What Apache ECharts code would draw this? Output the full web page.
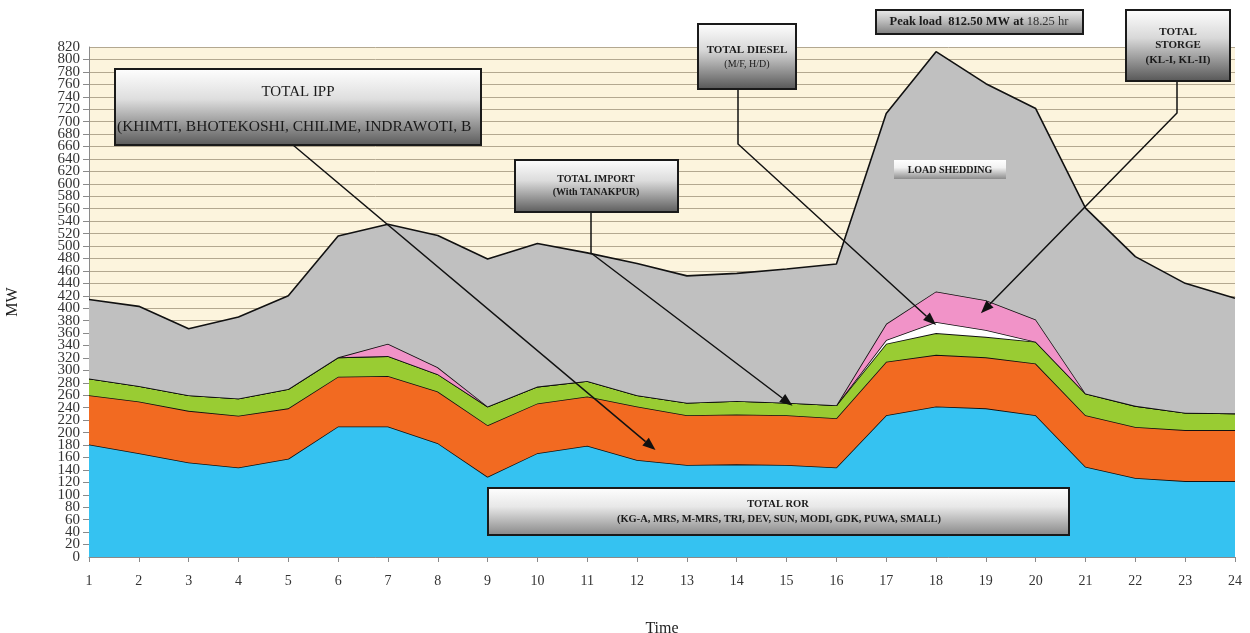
<!DOCTYPE html>
<html>
<head>
<meta charset="utf-8">
<script src="https://cdn.jsdelivr.net/npm/echarts@6/dist/echarts.min.js"></script>
<style>
html,body{margin:0;padding:0;background:#ffffff;}
#chart{width:1250px;height:633px;}
</style>
</head>
<body>
<div id="chart"></div>
<script>
// ---- Data (MW), hourly ----
const hours = ['1','2','3','4','5','6','7','8','9','10','11','12','13','14','15','16','17','18','19','20','21','22','23','24'];
const totalROR = [181,167,152,144,158,210,210,183,129,167,179,156,148,149,148,144,228,242,239,228,145,127,122,122];
const totalIPP = [79,83,83,83,81,80,81,83,83,80,79,86,80,80,80,79,86,83,82,83,83,82,82,82];
const totalImport = [27,25,25,28,31,31,32,28,30,27,25,18,20,22,20,21,29,35,33,35,35,34,28,27];
const totalDiesel = [0,0,0,0,0,0,0,0,0,0,0,0,0,0,0,0,6,18,11,0,0,0,0,0];
const totalStorage = [0,0,0,0,0,0,20,11,0,0,0,0,0,0,0,0,26,49,48,36,0,0,0,0];
const loadShedding = [127,128,107,131,150,195,192,212,237,230,206,212,204,205,215,227,338,385.5,348,339,298,240,208,185];
const yTicks = {min:0, max:820, interval:20};

const seriesNames = ['TOTAL ROR','TOTAL IPP','TOTAL IMPORT','TOTAL DIESEL','TOTAL STORGE','LOAD SHEDDING'];
const seriesData = [totalROR,totalIPP,totalImport,totalDiesel,totalStorage,loadShedding];
const seriesColors = ['#35C2F1','#F26A21','#99CC33','#FFFFFF','#F193C8','#C0C0C0'];

const SERIF = '"Liberation Serif","DejaVu Serif",serif';

const chart = echarts.init(document.getElementById('chart'), null, {renderer:'canvas'});

const yLabelStyle = {fontFamily:SERIF,fontSize:15,color:'#333',margin:9};

const option = {
  animation:false,
  backgroundColor:'#ffffff',
  grid:{left:89,right:15,top:47,bottom:76,show:true,backgroundColor:'#FCF4DD',borderWidth:0,
        containLabel:false,outerBoundsMode:'none'},
  xAxis:{
    type:'category', data:hours, boundaryGap:false,
    name:'Time', nameLocation:'middle', nameGap:64,
    nameTextStyle:{fontFamily:SERIF,fontSize:16,color:'#222'},
    axisLine:{show:true,lineStyle:{color:'#8a8a8a',width:1}},
    axisTick:{show:true,alignWithLabel:true,length:5,lineStyle:{color:'#8a8a8a'}},
    axisLabel:{fontFamily:SERIF,fontSize:14,color:'#333',margin:17,interval:0,showMinLabel:true,showMaxLabel:true},
    splitLine:{show:false}
  },
  yAxis:[{
    type:'value', min:yTicks.min, max:yTicks.max, interval:yTicks.interval,
    name:'MW', nameLocation:'middle', nameGap:68, nameRotate:90,
    nameTextStyle:{fontFamily:SERIF,fontSize:16,color:'#222'},
    axisLine:{show:true,lineStyle:{color:'#8a8a8a',width:1}},
    axisTick:{show:true,length:6,lineStyle:{color:'#8a8a8a'}},
    axisLabel:Object.assign({showMinLabel:false,showMaxLabel:false}, yLabelStyle),
    splitLine:{show:true,lineStyle:{color:'#B3A890',width:1}}
  },{
    type:'value', position:'left', offset:0, min:yTicks.min, max:yTicks.max, interval:yTicks.interval,
    axisLine:{show:false}, axisTick:{show:false}, splitLine:{show:false},
    axisLabel:Object.assign({showMinLabel:true,showMaxLabel:true,
      formatter:(v)=> (v===yTicks.min||v===yTicks.max) ? String(v) : ''}, yLabelStyle)
  }],
  series: seriesNames.map((n,i)=>({
    name:n, type:'line', stack:'load', data:seriesData[i], yAxisIndex:0,
    symbol:'none', smooth:false,
    lineStyle:{color:'#111',width:1.6},
    areaStyle:{color:seriesColors[i],opacity:1},
    z:2+i
  }))
};
chart.setOption(option);

// ---- Annotations ----
function px(h, v){
  const i0 = Math.floor(h-1);
  const i1 = Math.min(i0+1, hours.length-1);
  const p0 = chart.convertToPixel({gridIndex:0},[i0, v]);
  const p1 = chart.convertToPixel({gridIndex:0},[i1, v]);
  const t = (h-1)-i0;
  return [p0[0]+(p1[0]-p0[0])*t, p0[1]];
}
function arrow(points){
  const n = points.length;
  const [x1,y1] = points[n-2], [x2,y2] = points[n-1];
  const a = Math.atan2(y2-y1, x2-x1);
  const L = 13, W = 5;
  const bx = x2 - L*Math.cos(a), by = y2 - L*Math.sin(a);
  const head = [[x2,y2],[bx+W*Math.sin(a), by-W*Math.cos(a)],[bx-W*Math.sin(a), by+W*Math.cos(a)]];
  return [
    {type:'polyline', z:100, shape:{points:points.slice(0,n-1).concat([[bx,by]])}, style:{stroke:'#111',lineWidth:1.5,fill:null}},
    {type:'polygon', z:101, shape:{points:head}, style:{fill:'#111'}}
  ];
}
function grad(top, mid, bottom){
  return {type:'linear',x:0,y:0,x2:0,y2:1,colorStops:[{offset:0,color:top},{offset:0.4,color:mid},{offset:1,color:bottom}]};
}
function box(x,y,w,h,fill,border){
  return {type:'rect', z:102, shape:{x:x,y:y,width:w,height:h},
    style:{fill:fill, stroke:border===false?null:'#1a1a1a', lineWidth:border===false?0:2}};
}
function txt(s,x,y,font,extra){
  return {type:'text', z:103, style:Object.assign({text:s,x:x,y:y,font:font,fill:'#1a1a1a',align:'center',verticalAlign:'middle'}, extra||{})};
}

const boldS = (sz)=> 'bold '+sz+'px '+SERIF;
const normS = (sz)=> sz+'px '+SERIF;

const tipIPP = px(12.37, 172);
const tipImport = px(15.12, 243);
const tipDiesel = px(18.0, 373);
const tipStorage = px(18.9, 392);

const g = [];
g.push(...arrow([[293,145], tipIPP]));
g.push(...arrow([[591,212],[591,253], tipImport]));
g.push(...arrow([[738,89],[738,144], tipDiesel]));
g.push(...arrow([[1177,81],[1177,113], tipStorage]));

// TOTAL IPP
g.push(box(115,69,366,76, grad('#ffffff','#dedede','#595959')));
g.push(txt('TOTAL IPP',298,92,normS(15)));
g.push(txt('(KHIMTI, BHOTEKOSHI, CHILIME, INDRAWOTI, B',117,127,normS(15.5),{align:'left',width:362,overflow:'truncate',ellipsis:''}));

// TOTAL IMPORT
g.push(box(515,160,163,52, grad('#ffffff','#dcdcdc','#5a5a5a')));
g.push(txt('TOTAL IMPORT',596,179,boldS(10)));
g.push(txt('(With TANAKPUR)',596,192,boldS(10)));

// TOTAL DIESEL
g.push(box(698,24,98,65, grad('#ffffff','#d8d8d8','#555555')));
g.push(txt('TOTAL DIESEL',747,50,boldS(11)));
g.push(txt('(M/F, H/D)',747,64,normS(10)));

// TOTAL STORGE
g.push(box(1126,10,104,71, grad('#ffffff','#d8d8d8','#555555')));
g.push(txt('TOTAL',1178,32,boldS(11)));
g.push(txt('STORGE',1178,45,boldS(11)));
g.push(txt('(KL-I, KL-II)',1178,60,boldS(11)));

// Peak load
g.push(box(876,10,207,24, grad('#eeeeee','#c4c4c4','#7a7a7a')));
g.push({type:'text', z:103, style:{x:979,y:22,align:'center',verticalAlign:'middle',
  text:'{b|Peak load  812.50 MW at }{n|18.25 hr}',
  rich:{b:{font:boldS(12.5),fill:'#1a1a1a'}, n:{font:normS(12.5),fill:'#333'}}}});

// LOAD SHEDDING
g.push(box(894,160,112,19, grad('#ffffff','#f2f2f2','#8c8c8c'), false));
g.push(txt('LOAD SHEDDING',950,170,boldS(10)));

// TOTAL ROR
g.push(box(488,488,581,47, grad('#ffffff','#e8e8e8','#858585')));
g.push(txt('TOTAL ROR',778,504,boldS(10.5)));
g.push(txt('(KG-A, MRS, M-MRS, TRI, DEV, SUN, MODI, GDK, PUWA, SMALL)',779,519,boldS(10.5)));

chart.setOption({graphic:{elements:g}});
</script>
</body>
</html>
